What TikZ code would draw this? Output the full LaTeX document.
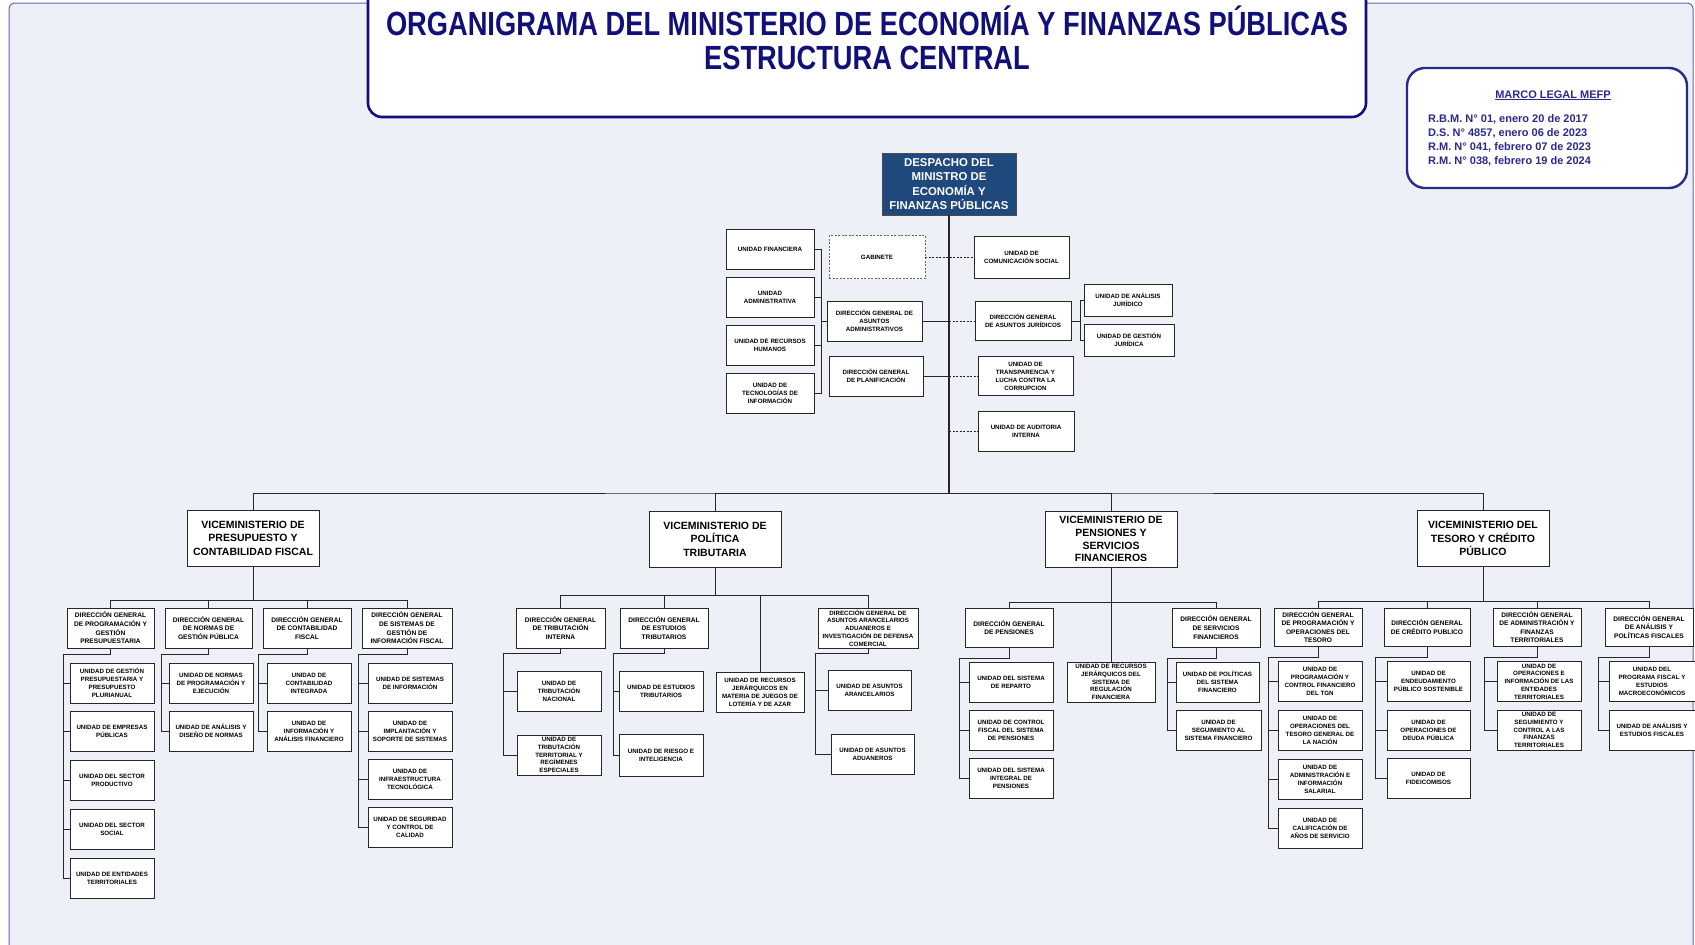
\documentclass[tikz,border=0pt]{standalone}
\usepackage{fontspec}
\setmainfont{Liberation Sans}
\definecolor{navy}{RGB}{16,16,120}
\definecolor{legal}{RGB}{42,42,140}
\definecolor{panelbg}{RGB}{237,240,246}
\definecolor{panelline}{RGB}{100,100,185}
\definecolor{despacho}{RGB}{31,73,125}
\tikzset{
  box/.style={draw=black!85, line width=0.95pt, fill=white, align=center, inner sep=0.5pt},
  unit/.style={box, font=\bfseries\fontsize{6.2}{8}\selectfont, minimum width=84pt, minimum height=40pt},
  dg/.style={box, font=\bfseries\fontsize{6.6}{8.6}\selectfont, minimum width=88pt, minimum height=40pt},
  vice/.style={box, font=\bfseries\fontsize{10.5}{13.5}\selectfont, minimum width=132pt, minimum height=56pt},
  link/.style={draw=black!85, line width=0.8pt},
  staff/.style={link, dash pattern=on 2pt off 1.5pt},
  heading/.style={text=navy, font=\bfseries\fontsize{33.5}{36}\selectfont, inner sep=0pt},
  legaltext/.style={text=legal, font=\bfseries\fontsize{11}{13}\selectfont, inner sep=0pt}
}
\begin{document}
\begin{tikzpicture}[x=1pt, y=-1pt]
\useasboundingbox (0,0) rectangle (1695,945);
\fill[white] (0,0) rectangle (1695,945);
\draw[panelline, line width=1pt, fill=panelbg, rounded corners=6pt] (9,3) rectangle (1693,990);

% titulo
\draw[navy, line width=2.6pt, fill=white, rounded corners=14pt] (368,-20) rectangle (1366,117);
\node[heading, anchor=base] (title) at (867,35) {\scalebox{0.814}[1]{ORGANIGRAMA DEL MINISTERIO DE ECONOMÍA Y FINANZAS PÚBLICAS}};
\node[heading, anchor=base] (subtitle) at (867,69) {\scalebox{0.814}[1]{ESTRUCTURA CENTRAL}};

% marco legal
\draw[legal, line width=2.4pt, fill=white, rounded corners=18pt] (1407,68) rectangle (1687,188);
\node[legaltext, anchor=base] (marco) at (1553,98) {\underline{MARCO LEGAL MEFP}};
\foreach \txt [count=\i] in {{R.B.M. N° 01, enero 20 de 2017}, {D.S. N° 4857, enero 06 de 2023},
    {R.M. N° 041, febrero 07 de 2023}, {R.M. N° 038, febrero 19 de 2024}}
  \node[legaltext, anchor=base west] (ley\i) at (1428,107.7+14.3*\i) {\txt};

% despacho
\node[box, fill=despacho, draw=black!70, text=white, font=\bfseries\fontsize{11.4}{14.5}\selectfont,
  minimum width=134pt, minimum height=62pt] (desp) at (949,184) {DESPACHO DEL\\MINISTRO DE\\ECONOMÍA Y\\FINANZAS PÚBLICAS};
\coordinate (hub) at (949,493);
\draw[link, line width=1.6pt] (desp.south) -- (hub);

% unidades de apoyo
\foreach \n/\txt [count=\i from 0] in {ufin/{UNIDAD FINANCIERA}, uadm/{UNIDAD\\ADMINISTRATIVA},
    urh/{UNIDAD DE RECURSOS\\HUMANOS}, utic/{UNIDAD DE\\TECNOLOGÍAS DE\\INFORMACIÓN}}
  \node[unit, minimum width=88pt] (\n) at (770,249+48*\i) {\txt};
\node[unit, draw=black!60, dash pattern=on 2pt off 1.5pt, minimum width=96pt, minimum height=43pt] (gab) at (877,257) {GABINETE};
\node[unit, minimum width=95pt] (dgaa) at (874.5,321) {DIRECCIÓN GENERAL DE\\ASUNTOS\\ADMINISTRATIVOS};
\node[unit, minimum width=94pt] (dgpl) at (876,376) {DIRECCIÓN GENERAL\\DE PLANIFICACIÓN};
\node[unit, minimum width=95pt, minimum height=42pt] (ucs) at (1021.5,257) {UNIDAD DE\\COMUNICACIÓN SOCIAL};
\node[unit, minimum width=96pt, minimum height=39pt] (dgaj) at (1023,321) {DIRECCIÓN GENERAL\\DE ASUNTOS JURÍDICOS};
\node[unit, minimum width=88pt, minimum height=32pt] (uaj) at (1128,300) {UNIDAD DE ANÁLISIS\\JURÍDICO};
\node[unit, minimum width=90pt, minimum height=32pt] (ugj) at (1129,340) {UNIDAD DE GESTIÓN\\JURÍDICA};
\node[unit, minimum width=95pt, minimum height=39pt] (utlc) at (1025.5,376) {UNIDAD DE\\TRANSPARENCIA Y\\LUCHA CONTRA LA\\CORRUPCION};
\node[unit, minimum width=96pt] (uai) at (1026,431) {UNIDAD DE AUDITORIA\\INTERNA};

\coordinate (lbar) at (821,321);
\foreach \u in {ufin,uadm,urh,utic}
  \draw[link] (\u.east) -| (lbar);
\draw[link] (lbar) -- (dgaa.west);
\draw[link] (dgaa.east) -- (dgaa.east -| hub);
\draw[staff] (dgaa.east -| hub) -- (dgaj.west);
\draw[staff] (gab.east) -- (ucs.west);
\draw[link] (dgpl.east) -- (dgpl.east -| hub);
\draw[staff] (dgpl.east -| hub) -- (utlc.west);
\draw[staff] (uai.west -| hub) -- (uai.west);
\coordinate (rbar) at (1080,321);
\draw[link] (dgaj.east) -- (rbar);
\foreach \u in {uaj,ugj}
  \draw[link] (rbar) |- (\u.west);

% viceministerios
\node[vice] (vpcf) at (253,538) {VICEMINISTERIO DE\\PRESUPUESTO Y\\CONTABILIDAD FISCAL};
\node[vice] (vpt) at (715,539) {VICEMINISTERIO DE\\POLÍTICA\\TRIBUTARIA};
\node[vice, font=\bfseries\fontsize{10.5}{12.8}\selectfont] (vpsf) at (1111,539) {VICEMINISTERIO DE\\PENSIONES Y\\SERVICIOS\\FINANCIEROS};
\node[vice] (vtcp) at (1483,538.5) {VICEMINISTERIO DEL\\TESORO Y CRÉDITO\\PÚBLICO};
\draw[link] (vpcf.north) |- (hub) -| (vtcp.north);
\draw[link] (hub) -| (vpt.north);
\draw[link] (hub) -| (vpsf.north);

% presupuesto y contabilidad fiscal
\node[dg, minimum width=87pt] (dgpgp) at (110.5,628) {DIRECCIÓN GENERAL\\DE PROGRAMACIÓN Y\\GESTIÓN\\PRESUPUESTARIA};
\node[dg, minimum width=87pt] (dgngp) at (208.5,628) {DIRECCIÓN GENERAL\\DE NORMAS DE\\GESTIÓN PÚBLICA};
\node[dg] (dgcf) at (307,628) {DIRECCIÓN GENERAL\\DE CONTABILIDAD\\FISCAL};
\node[dg, minimum width=90pt] (dgsgif) at (407,628) {DIRECCIÓN GENERAL\\DE SISTEMAS DE\\GESTIÓN DE\\INFORMACIÓN FISCAL};
\foreach \n/\txt [count=\i from 0] in {ugpp/{UNIDAD DE GESTIÓN\\PRESUPUESTARIA Y\\PRESUPUESTO\\PLURIANUAL},
    uemp/{UNIDAD DE EMPRESAS\\PÚBLICAS}, usprod/{UNIDAD DEL SECTOR\\PRODUCTIVO},
    ussoc/{UNIDAD DEL SECTOR\\SOCIAL}, uent/{UNIDAD DE ENTIDADES\\TERRITORIALES}}
  \node[unit] (\n) at (112,683+48.8*\i) {\txt};
\node[unit] (unpe) at (211,683) {UNIDAD DE NORMAS\\DE PROGRAMACIÓN Y\\EJECUCIÓN};
\node[unit] (uadn) at (211,731) {UNIDAD DE ANÁLISIS Y\\DISEÑO DE NORMAS};
\node[unit] (ucint) at (309,683) {UNIDAD DE\\CONTABILIDAD\\INTEGRADA};
\node[unit] (uiaf) at (309,731) {UNIDAD DE\\INFORMACIÓN Y\\ANÁLISIS FINANCIERO};
\foreach \n/\txt [count=\i from 0] in {usinf/{UNIDAD DE SISTEMAS\\DE INFORMACIÓN},
    uiss/{UNIDAD DE\\IMPLANTACIÓN Y\\SOPORTE DE SISTEMAS}, uitec/{UNIDAD DE\\INFRAESTRUCTURA\\TECNOLÓGICA},
    uscc/{UNIDAD DE SEGURIDAD\\Y CONTROL DE\\CALIDAD}}
  \node[unit] (\n) at (410,683+48*\i) {\txt};
\coordinate (s1) at (253,600);
\draw[link] (vpcf.south) -- (s1);
\foreach \d in {dgpgp,dgngp,dgcf,dgsgif}
  \draw[link] (s1) -| (\d.north);
\coordinate (b11) at (63,654);
\coordinate (b12) at (161,654);
\coordinate (b13) at (258,654);
\coordinate (b14) at (358,654);

% politica tributaria
\node[dg, minimum width=89pt] (dgti) at (560.5,628) {DIRECCIÓN GENERAL\\DE TRIBUTACIÓN\\INTERNA};
\node[dg] (dget) at (664,628) {DIRECCIÓN GENERAL\\DE ESTUDIOS\\TRIBUTARIOS};
\node[unit, minimum width=88pt] (urjla) at (760,692) {UNIDAD DE RECURSOS\\JERÁRQUICOS EN\\MATERIA DE JUEGOS DE\\LOTERÍA Y DE AZAR};
\node[dg, font=\bfseries\fontsize{6.2}{7.8}\selectfont, minimum width=100pt] (dgaran) at (868,628) {DIRECCIÓN GENERAL DE\\ASUNTOS ARANCELARIOS\\ADUANEROS E\\INVESTIGACIÓN DE DEFENSA\\COMERCIAL};
\node[unit] (utn) at (559,691.5) {UNIDAD DE\\TRIBUTACIÓN\\NACIONAL};
\node[unit, font=\bfseries\fontsize{6.2}{7.8}\selectfont] (uttre) at (559,755) {UNIDAD DE\\TRIBUTACIÓN\\TERRITORIAL Y\\REGÍMENES\\ESPECIALES};
\node[unit] (uet) at (661,691.5) {UNIDAD DE ESTUDIOS\\TRIBUTARIOS};
\node[unit, minimum height=42pt] (uri) at (661,755) {UNIDAD DE RIESGO E\\INTELIGENCIA};
\node[unit, minimum width=83pt] (uaar) at (869.5,690.5) {UNIDAD DE ASUNTOS\\ARANCELARIOS};
\node[unit, minimum width=83pt] (uaad) at (872.5,754) {UNIDAD DE  ASUNTOS\\ADUANEROS};
\coordinate (s2) at (715,595);
\draw[link] (vpt.south) -- (s2);
\foreach \d in {dgti,dget,urjla,dgaran}
  \draw[link] (s2) -| (\d.north);
\coordinate (b21) at (503,653);
\coordinate (b22) at (613,653);
\coordinate (b23) at (815,653);

% pensiones y servicios financieros
\node[dg, minimum height=39pt] (dgpen) at (1009,627.5) {DIRECCIÓN GENERAL\\DE PENSIONES};
\node[unit, minimum width=88pt, font=\bfseries\fontsize{6.2}{7.8}\selectfont] (urjsrf) at (1111,682) {UNIDAD DE RECURSOS\\JERÁRQUICOS DEL\\SISTEMA DE\\REGULACIÓN\\FINANCIERA};
\node[dg, minimum height=39pt] (dgsf) at (1216,627.5) {DIRECCIÓN GENERAL\\DE SERVICIOS\\FINANCIEROS};
\foreach \n/\txt [count=\i from 0] in {usrep/{UNIDAD DEL SISTEMA\\DE REPARTO},
    ucfsp/{UNIDAD DE CONTROL\\FISCAL DEL SISTEMA\\DE PENSIONES}, usip/{UNIDAD DEL SISTEMA\\INTEGRAL DE\\PENSIONES}}
  \node[unit] (\n) at (1011,682.5+48*\i) {\txt};
\node[unit, minimum width=83pt] (upsf) at (1217.5,682) {UNIDAD DE POLÍTICAS\\DEL SISTEMA\\FINANCIERO};
\node[unit, minimum width=85pt] (ussf) at (1218.5,730.5) {UNIDAD DE\\SEGUIMIENTO AL\\SISTEMA FINANCIERO};
\coordinate (s3) at (1111,602);
\draw[link] (vpsf.south) -- (s3) -- (urjsrf.north);
\foreach \d in {dgpen,dgsf}
  \draw[link] (s3) -| (\d.north);
\coordinate (b31) at (959,658);
\coordinate (b32) at (1167,658);

% tesoro y credito publico
\node[dg, minimum height=38pt] (dgpot) at (1318,627) {DIRECCIÓN GENERAL\\DE PROGRAMACIÓN Y\\OPERACIONES DEL\\TESORO};
\node[dg, minimum width=86pt, minimum height=38pt] (dgcp) at (1427,627) {DIRECCIÓN GENERAL\\DE CRÉDITO PUBLICO};
\node[dg, minimum height=38pt] (dgaft) at (1537,627) {DIRECCIÓN GENERAL\\DE ADMINISTRACIÓN Y\\FINANZAS\\TERRITORIALES};
\node[dg, minimum height=38pt] (dgapf) at (1649,627) {DIRECCIÓN GENERAL\\DE ANÁLISIS Y\\POLÍTICAS FISCALES};
\foreach \n/\txt [count=\i from 0] in {upcf/{UNIDAD DE\\PROGRAMACIÓN Y\\CONTROL FINANCIERO\\DEL TGN},
    uotgn/{UNIDAD DE\\OPERACIONES DEL\\TESORO GENERAL DE\\LA NACIÓN}, uais/{UNIDAD DE\\ADMINISTRACIÓN E\\INFORMACIÓN\\SALARIAL},
    ucas/{UNIDAD DE\\CALIFICACIÓN DE\\AÑOS DE SERVICIO}}
  \node[unit] (\n) at (1320,681.5+49*\i) {\txt};
\foreach \n/\txt [count=\i from 0] in {uend/{UNIDAD DE\\ENDEUDAMIENTO\\PÚBLICO SOSTENIBLE},
    uodp/{UNIDAD DE\\OPERACIONES DE\\DEUDA PÚBLICA}, ufid/{UNIDAD DE\\FIDEICOMISOS}}
  \node[unit, minimum width=83pt] (\n) at (1428.5,681.5+48.5*\i) {\txt};
\node[unit, font=\bfseries\fontsize{6.2}{7.8}\selectfont] (uoiet) at (1539,681.5) {UNIDAD DE\\OPERACIONES E\\INFORMACIÓN DE LAS\\ENTIDADES\\TERRITORIALES};
\node[unit, font=\bfseries\fontsize{6.2}{7.8}\selectfont] (uscft) at (1539,730) {UNIDAD DE\\SEGUIMIENTO Y\\CONTROL A LAS\\FINANZAS\\TERRITORIALES};
\node[unit, minimum width=86pt] (upfem) at (1652,681.5) {UNIDAD DEL\\PROGRAMA FISCAL Y\\ESTUDIOS\\MACROECONÓMICOS};
\node[unit, minimum width=86pt] (uaef) at (1652,730) {UNIDAD DE ANÁLISIS Y\\ESTUDIOS FISCALES};
\coordinate (s4) at (1483,601);
\draw[link] (vtcp.south) -- (s4);
\foreach \d in {dgpot,dgcp,dgaft,dgapf}
  \draw[link] (s4) -| (\d.north);
\coordinate (b41) at (1268,657);
\coordinate (b42) at (1375,657);
\coordinate (b43) at (1484,657);
\coordinate (b44) at (1598,657);

% corchetes de unidades
\foreach \d/\b in {dgpgp/b11, dgngp/b12, dgcf/b13, dgsgif/b14, dgti/b21, dget/b22, dgaran/b23,
    dgpen/b31, dgsf/b32, dgpot/b41, dgcp/b42, dgaft/b43, dgapf/b44}
  \draw[link] (\d.south) |- (\b);
\foreach \b/\u in {b11/ugpp, b11/uemp, b11/usprod, b11/ussoc, b11/uent, b12/unpe, b12/uadn,
    b13/ucint, b13/uiaf, b14/usinf, b14/uiss, b14/uitec, b14/uscc,
    b21/utn, b21/uttre, b22/uet, b22/uri, b23/uaar, b23/uaad,
    b31/usrep, b31/ucfsp, b31/usip, b32/upsf, b32/ussf,
    b41/upcf, b41/uotgn, b41/uais, b41/ucas, b42/uend, b42/uodp, b42/ufid,
    b43/uoiet, b43/uscft, b44/upfem, b44/uaef}
  \draw[link] (\b) |- (\u.west);
\end{tikzpicture}
\end{document}
